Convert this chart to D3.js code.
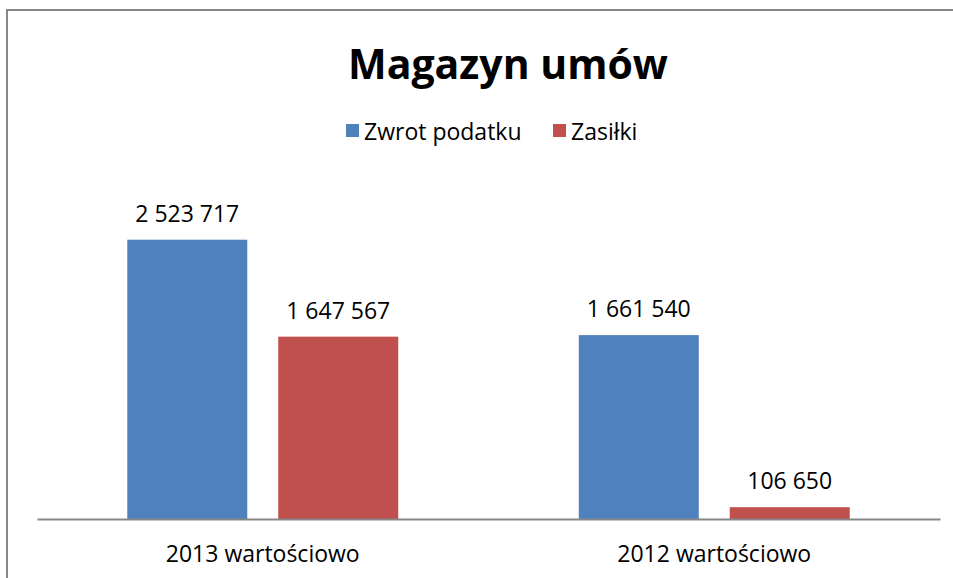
<!DOCTYPE html>
<html>
<head>
<meta charset="utf-8">
<script src="https://cdn.jsdelivr.net/npm/d3@7"></script>
<style>
  body { margin: 0; background: #fff; }
  text { font-family: "Open Sans", "DejaVu Sans", sans-serif; fill: #000; }
</style>
</head>
<body>
<div id="chart"></div>
<script>
var categories = ["2013 wartościowo", "2012 wartościowo"];
var seriesNames = ["Zwrot podatku", "Zasiłki"];
var zwrotPodatku = [2523717, 1661540];
var zasilki = [1647567, 106650];
var colors = ["#4f81bd", "#c0504d"];

var width = 953, height = 578;
var margin = {top: 187, right: 13, bottom: 59, left: 37};

var svg = d3.select("#chart").append("svg")
    .attr("width", width)
    .attr("height", height);

// outer frame (only top and left visible in the picture)
svg.append("path")
    .attr("d", "M7,590 L7,10 L960,10")
    .style("fill", "none")
    .style("stroke", "#878787")
    .style("stroke-width", 2);

var plotW = width - margin.left - margin.right;
var plotH = height - margin.top - margin.bottom;

var content = svg.append("g")
    .attr("transform", "translate(" + margin.left + "," + margin.top + ")");

var x0 = d3.scaleBand().domain(categories).range([0, plotW]).paddingInner(0).paddingOuter(0);
var x1 = d3.scaleBand().domain(seriesNames).range([0, x0.bandwidth()]).paddingInner(0.205).paddingOuter(0.598);
var y = d3.scaleLinear().domain([0, 3000000]).range([plotH, 0]);

var data = categories.map(function(c, i) {
    return {cat: c, values: [zwrotPodatku[i], zasilki[i]]};
});

var fmt = function(v) { return d3.format(",")(v).replace(/,/g, " "); };

var groups = content.selectAll(".grp")
    .data(data)
    .enter().append("g")
    .attr("class", "grp")
    .attr("transform", function(d) { return "translate(" + x0(d.cat) + ",0)"; });

groups.selectAll("rect")
    .data(function(d) { return d.values.map(function(v, j) { return {name: seriesNames[j], value: v, j: j}; }); })
    .enter().append("rect")
    .attr("x", function(d) { return x1(d.name); })
    .attr("y", function(d) { return y(d.value); })
    .attr("width", x1.bandwidth())
    .attr("height", function(d) { return plotH - y(d.value); })
    .style("fill", function(d) { return colors[d.j]; });

groups.selectAll(".lbl")
    .data(function(d) { return d.values.map(function(v, j) { return {name: seriesNames[j], value: v}; }); })
    .enter().append("text")
    .attr("class", "lbl")
    .attr("x", function(d) { return x1(d.name) + x1.bandwidth() / 2; })
    .attr("y", function(d) { return y(d.value) - 18; })
    .style("text-anchor", "middle")
    .style("font-size", "23px")
    .text(function(d) { return fmt(d.value); });

// category axis
var xAxis = content.append("g")
    .attr("transform", "translate(0," + plotH + ")")
    .call(d3.axisBottom(x0).tickSize(0).tickPadding(27));
xAxis.select(".domain").style("stroke", "#878787").style("stroke-width", 2);
xAxis.selectAll("text").style("font-size", "23px").style("font-family", "'Open Sans', sans-serif").attr("fill", "#000");

// title
svg.append("text")
    .attr("x", 508)
    .attr("y", 79)
    .style("text-anchor", "middle")
    .style("font-size", "41px")
    .style("font-weight", "bold")
    .text("Magazyn umów");

// legend
var legend = svg.append("g").attr("transform", "translate(346,124)");
var lx = [0, 207];
seriesNames.forEach(function(n, i) {
    legend.append("rect")
        .attr("x", lx[i]).attr("y", 0)
        .attr("width", 13).attr("height", 13)
        .style("fill", colors[i]);
    legend.append("text")
        .attr("x", lx[i] + 18).attr("y", 16)
        .style("font-size", "23px")
        .text(n);
});
</script>
</body>
</html>
